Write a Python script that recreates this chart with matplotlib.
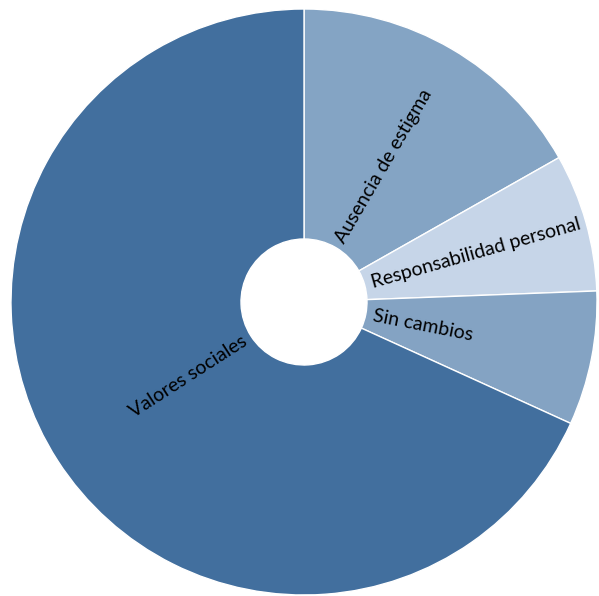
import numpy as np
import matplotlib
matplotlib.use("Agg")
import matplotlib.pyplot as plt

categories = ["Ausencia de estigma", "Responsabilidad personal", "Sin cambios", "Valores sociales"]
values = [16.8, 7.6, 7.4, 68.2]
colors = ["#84a4c4", "#c6d5e8", "#84a3c3", "#426f9e"]

W, H = 599, 596
fig = plt.figure(figsize=(W / 100, H / 100), dpi=100)
ax = fig.add_axes([0, 0, 1, 1])

cx, cy = 304, H - 302
R = 293
r_in = 63

wedges, _ = ax.pie(values, colors=colors, startangle=90, counterclock=False,
                   center=(cx, cy), radius=R, frame=True,
                   wedgeprops=dict(width=R - r_in, edgecolor="white", linewidth=1))
ax.set_xlim(0, W)
ax.set_ylim(0, H)
ax.set_aspect("auto")
ax.axis("off")

r0 = 70
for w, lab in zip(wedges, categories):
    mid = np.deg2rad((w.theta1 + w.theta2) / 2)
    x = cx + r0 * np.cos(mid)
    y = cy + r0 * np.sin(mid)
    ang = np.rad2deg(mid) % 360
    if 90 < ang < 270:
        rot = ang - 180
        ha = "right"
    else:
        rot = ang if ang <= 90 else ang - 360
        ha = "left"
    ax.text(x, y, lab, rotation=rot, rotation_mode="anchor", ha=ha, va="center",
            fontsize=14, family=["Lato", "DejaVu Sans"], color="black")

fig.savefig("out.png", dpi=100)
